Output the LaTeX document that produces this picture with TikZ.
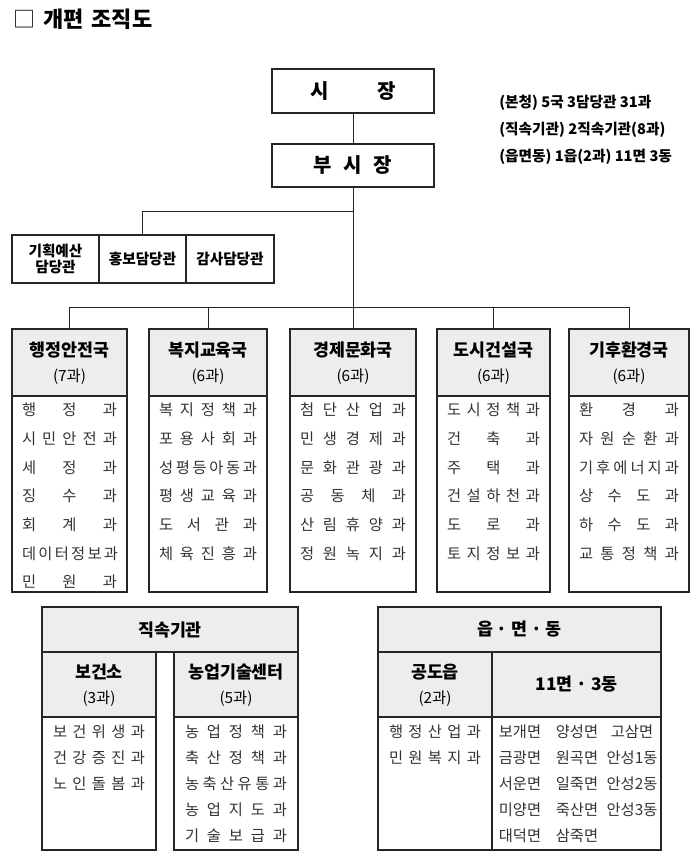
\documentclass[tikz,border=0pt]{standalone}
\usepackage{fontspec}
\setmainfont{Noto Sans CJK KR}
\tikzset{
  kbox/.style={draw=black!85,line width=0.9pt,inner sep=0pt,outer sep=0pt,anchor=north west,align=center},
  khead/.style={kbox,fill=black!7},
  kname/.style={font=\bfseries\fontsize{13}{15}\selectfont},
  kcnt/.style={font=\fontsize{11.5}{13}\selectfont,inner sep=0pt},
  kitem/.style={font=\fontsize{11.5}{13}\selectfont,text=black!80,inner sep=0pt},
  ksmall/.style={font=\bfseries\fontsize{11}{12}\selectfont},
  kline/.style={draw=black!85,line width=0.6pt},
}
\newcommand{\kspread}[2]{\makebox[#1][s]{#2}}
\begin{document}
\begin{tikzpicture}[x=0.75pt,y=-0.75pt]
\useasboundingbox(0,0)rectangle(700,865);
\node[anchor=west,inner sep=0pt,font=\bfseries\fontsize{16.5}{19}\selectfont](title) at (13,19){{\mdseries □}\hspace{6pt}개편\hspace{6pt}조직도};
\node[kbox,minimum width=121.5pt,minimum height=33pt,font=\bfseries\fontsize{15}{18}\selectfont](mayor) at (272,69){\kspread{64pt}{시 장}};
\node[kbox,minimum width=121.5pt,minimum height=32.25pt,font=\bfseries\fontsize{15}{18}\selectfont](vice) at (272,144){\kspread{59pt}{부 시 장}};
\foreach \ky/\txt [count=\k] in {103/{(본청) 5국 3담당관 31과},130/{(직속기관) 2직속기관(8과)},157/{(읍면동) 1읍(2과) 11면 3동}}{
  \node[anchor=west,inner sep=0pt,font=\bfseries\fontsize{11}{13}\selectfont](sum\k) at (499,\ky){\txt};}
\foreach \n/\xl/\xr/\name in {1/12/99/{기획예산\\담당관},2/99/186/홍보담당관,3/186/274/감사담당관}{
  \pgfmathsetmacro{\kw}{(\xr-\xl)*0.75}
  \node[kbox,ksmall,minimum width=\kw pt,minimum height=36pt](st\n) at (\xl,235){\name};}
\foreach \n/\xl/\xr/\name/\cnt/\items in {
  1/12/127/행정안전국/7/{행 정 과,시 민 안 전 과,세 정 과,징 수 과,회 계 과,데 이 터 정 보 과,민 원 과},
  2/149/267/복지교육국/6/{복 지 정 책 과,포 용 사 회 과,성 평 등 아 동 과,평 생 교 육 과,도 서 관 과,체 육 진 흥 과},
  3/290/416/경제문화국/6/{첨 단 산 업 과,민 생 경 제 과,문 화 관 광 과,공 동 체 과,산 림 휴 양 과,정 원 녹 지 과},
  4/437/550/도시건설국/6/{도 시 정 책 과,건 축 과,주 택 과,건 설 하 천 과,도 로 과,토 지 정 보 과},
  5/569/689/기후환경국/6/{환 경 과,자 원 순 환 과,기 후 에 너 지 과,상 수 도 과,하 수 도 과,교 통 정 책 과}}{
  \pgfmathsetmacro{\kw}{(\xr-\xl)*0.75}
  \pgfmathsetmacro{\kiw}{(\xr-\xl-20)*0.75}
  \pgfmathsetmacro{\kxm}{(\xl+\xr)/2}
  \node[khead,minimum width=\kw pt,minimum height=50.25pt](dh\n) at (\xl,329){};
  \node[kbox,minimum width=\kw pt,minimum height=147pt](db\n) at (\xl,396){};
  \node[kname](dn\n) at (\kxm,350){\name};
  \node[kcnt](dc\n) at (\kxm,377){(\cnt{}과)};
  \foreach \itx [count=\k] in \items{
    \node[kitem](di\n-\k) at (\kxm,410+28.7*\k-28.7){\kspread{\kiw pt}{\itx}};}
}
\node[khead,kname,minimum width=192pt,minimum height=33.75pt](ga) at (42,607){직속기관};
\node[khead,kname,minimum width=212.25pt,minimum height=33.75pt](gb) at (378,607){읍 · 면 · 동};
\foreach \n/\xl/\xr/\name/\cnt/\items in {
  1/42/156/보건소/3/{보 건 위 생 과,건 강 증 진 과,노 인 돌 봄 과},
  2/174/298/농업기술센터/5/{농 업 정 책 과,축 산 정 책 과,농 축 산 유 통 과,농 업 지 도 과,기 술 보 급 과},
  3/378/492/공도읍/2/{행 정 산 업 과,민 원 복 지 과}}{
  \pgfmathsetmacro{\kw}{(\xr-\xl)*0.75}
  \pgfmathsetmacro{\kiw}{(\xr-\xl-22)*0.75}
  \pgfmathsetmacro{\kxm}{(\xl+\xr)/2}
  \node[khead,minimum width=\kw pt,minimum height=48.75pt](sh\n) at (\xl,652){};
  \node[kbox,minimum width=\kw pt,minimum height=99.75pt](sb\n) at (\xl,717){};
  \node[kname](sn\n) at (\kxm,672){\name};
  \node[kcnt](sc\n) at (\kxm,699){(\cnt{}과)};
  \foreach \itx [count=\k] in \items{
    \node[kitem](si\n-\k) at (\kxm,732+26*\k-26){\kspread{\kiw pt}{\itx}};}
}
\node[khead,kname,minimum width=126.75pt,minimum height=48.75pt](sh4) at (492,652){11면 · 3동};
\node[kbox,minimum width=126.75pt,minimum height=99.75pt](sb4) at (492,717){};
\foreach \cx/\col [count=\c] in {520/{보개면,금광면,서운면,미양면,대덕면},577/{양성면,원곡면,일죽면,죽산면,삼죽면},632/{고삼면,안성1동,안성2동,안성3동}}{
  \foreach \m [count=\k] in \col{\node[kitem](mm\c-\k) at (\cx,732+26*\k-26){\m};}}
\coordinate(kjs) at (0,211);
\coordinate(kjd) at (0,307);
\draw[kline](mayor)--(vice);
\draw[kline](vice.south)--(vice.south|-kjd);
\draw[kline](vice.south|-kjs)-|(st2.north);
\draw[kline](dh1.north)|-(dh5.north|-kjd);
\foreach \n in {2,3,4,5}{\draw[kline](dh\n.north)--(dh\n.north|-kjd);}
\end{tikzpicture}
\end{document}
